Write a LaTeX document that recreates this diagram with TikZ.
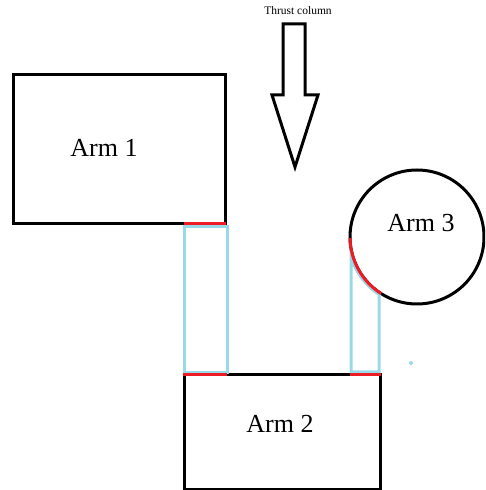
\documentclass[tikz,border=0pt]{standalone}
\usepackage{fontspec}
\setmainfont{Liberation Serif}
\definecolor{paintblue}{RGB}{153,217,234}
\definecolor{paintred}{RGB}{237,28,36}
\tikzset{
  armbox/.style={draw=black, line width=3pt, inner sep=0pt, outer sep=0pt, fill=white},
  armlabel/.style={font=\fontsize{26}{28}\selectfont, anchor=base, inner sep=0pt},
  blueline/.style={draw=paintblue, line width=3pt},
  redline/.style={draw=paintred, line width=3pt},
  thrust/.style={draw=black, line width=3pt, line join=miter},
}
\begin{document}
\begin{tikzpicture}[x=1pt,y=1pt]
\useasboundingbox (0,0) rectangle (485,490);
\clip (0,0) rectangle (485,490);
% boxes
\node[armbox, minimum width=211.5pt, minimum height=149.5pt] (arm1) at (119.25,340.75) {};
\node[armbox, minimum width=196pt, minimum height=115pt] (arm2) at (282,57.5) {};
\node[armbox, circle, minimum size=134pt] (arm3) at (417,253) {};
% labels
\node[armlabel] (l1) at (104,333) {Arm 1};
\node[armlabel] (l2) at (280,57) {Arm 2};
\node[armlabel] (l3) at (421,258) {Arm 3};
\node[font=\fontsize{11.5}{12}\selectfont, anchor=base, inner sep=0pt] (tl) at (298,475) {Thrust column};
% thrust arrow
\draw[thrust] (283,466) -- (305,466) -- (305,395) -- (318,395) -- (295,323) -- (272,395) -- (283,395) -- cycle;
% blue supports
\draw[blueline] (184,117) rectangle (227,263);
\draw[blueline] (351,118) -- (351,233) arc[start angle=-163, end angle=-123.4, radius=69] -- (379,118) -- cycle;
% red contact lines
\draw[redline] (184,266) -- (226,266);
\draw[redline] (183,115) -- (227,115);
\draw[redline] (350,115) -- (381,115);
\draw[redline] (arm3.-179) arc[start angle=-179, end angle=-122.5, radius=67];
% stray dot
\fill[paintblue] (411,127) circle[radius=2];
\end{tikzpicture}
\end{document}
